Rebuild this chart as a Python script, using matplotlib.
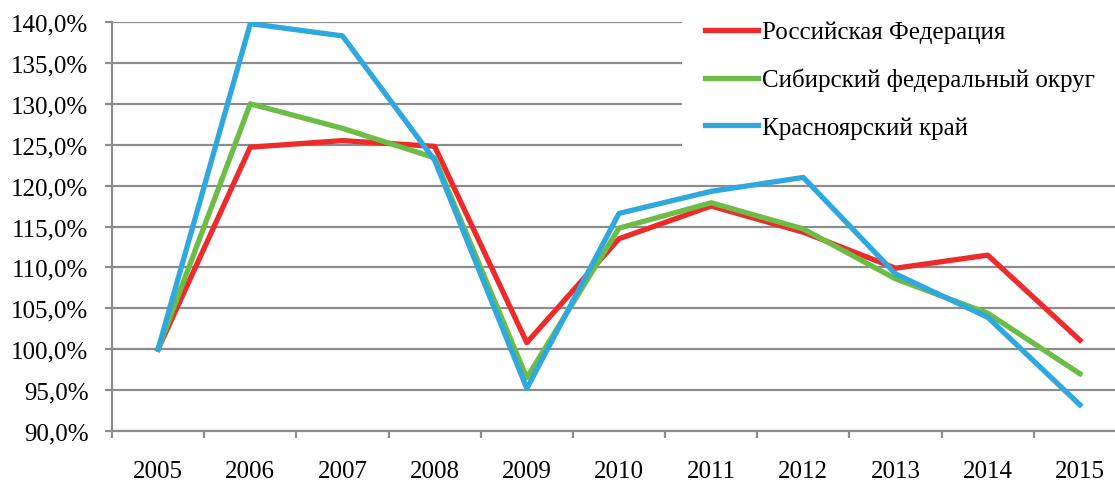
import matplotlib.pyplot as plt
import numpy as np
from matplotlib.ticker import FuncFormatter, FixedLocator
from matplotlib.patches import Rectangle

plt.rcParams['font.family'] = ['Liberation Serif', 'DejaVu Serif']

years = ['2005', '2006', '2007', '2008', '2009', '2010', '2011', '2012', '2013', '2014', '2015']
rf = [100.0, 124.7, 125.5, 124.8, 100.8, 113.5, 117.5, 114.3, 109.9, 111.5, 101.1]
sfo = [100.0, 130.0, 127.0, 123.4, 96.5, 114.8, 117.9, 114.7, 108.6, 104.4, 97.0]
kk = [100.0, 139.8, 138.3, 123.1, 95.2, 116.6, 119.3, 121.0, 109.2, 103.9, 93.2]
names = ['Российская Федерация', 'Сибирский федеральный округ', 'Красноярский край']

fig = plt.figure(figsize=(11.15, 4.81), dpi=100)
ax = fig.add_axes([112 / 1115, 1 - 432 / 481, (1126 - 112) / 1115, (432 - 23) / 481])

x = np.arange(len(years))
ax.plot(x, rf, color='#ee2a2a', lw=3.8, label=names[0], zorder=3)
ax.plot(x, sfo, color='#6bbd45', lw=3.8, label=names[1], zorder=3)
ax.plot(x, kk, color='#2ea8df', lw=3.8, label=names[2], zorder=3)

ax.set_xlim(-0.5, len(years) - 0.5)
ax.set_ylim(90, 140)
ax.set_yticks(np.arange(90, 141, 5))
ax.yaxis.set_major_formatter(FuncFormatter(lambda v, p: ('%.1f%%' % v).replace('.', ',')))
ax.set_xticks(x)
ax.set_xticklabels(years)
ax.xaxis.set_minor_locator(FixedLocator(np.arange(-0.5, len(years), 1)))
ax.tick_params(axis='x', which='major', length=0, pad=21, labelsize=18)
ax.tick_params(axis='x', which='minor', length=5, width=1.6, color='#8c8c8c')
ax.tick_params(axis='y', length=5, width=1.6, color='#8c8c8c', labelsize=18, pad=12)

ax.grid(axis='y', color='#8c8c8c', lw=1.6)
ax.set_axisbelow(True)
for s in ['top', 'right']:
    ax.spines[s].set_visible(False)
for s in ['left', 'bottom']:
    ax.spines[s].set_color('#8c8c8c')
    ax.spines[s].set_linewidth(1.6)

# white block behind the legend hides the upper gridlines
ax.add_patch(Rectangle((682 / 1115, 1 - 152 / 481), 1, 1, transform=fig.transFigure,
                       facecolor='white', edgecolor='none', zorder=1, clip_on=False))

leg = ax.legend(loc='upper left', bbox_to_anchor=(705 / 1115, 1 - 22 / 481), bbox_transform=fig.transFigure,
                frameon=False, fontsize=18, handlelength=2.1, handletextpad=0.2, labelspacing=0.98,
                borderpad=0, borderaxespad=0)
leg.set_zorder(5)
for ln in leg.get_lines():
    ln.set_linewidth(3.8)

fig.savefig('out.png', dpi=100)
